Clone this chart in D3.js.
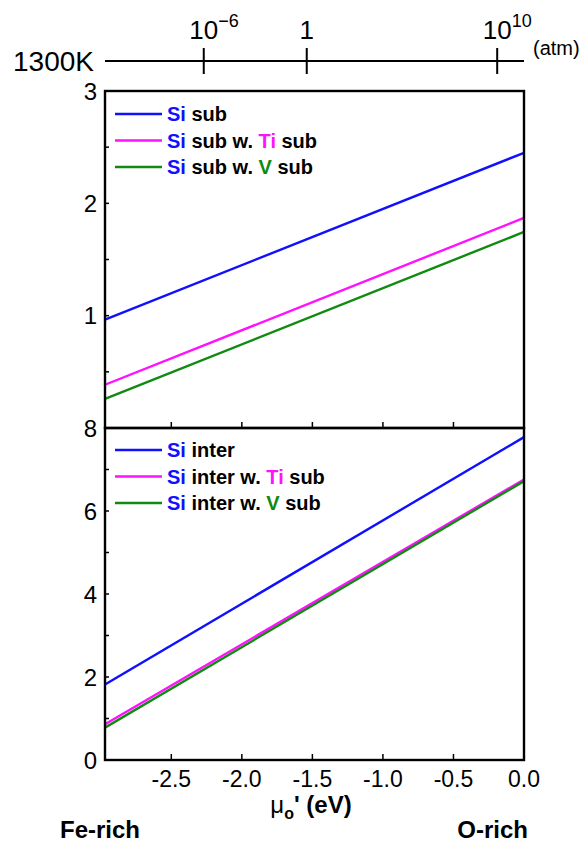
<!DOCTYPE html>
<html>
<head>
<meta charset="utf-8">
<script src="https://cdn.jsdelivr.net/npm/d3@7"></script>
<style>
  body { margin: 0; background: #fff; }
  svg text { font-family: "Liberation Sans", Arial, sans-serif; }
</style>
</head>
<body>
<svg id="chart" width="587" height="844"></svg>
<script>
// x values where every line starts and ends (mu_O', eV)
var muPoints = [-2.97, 0];

// upper panel: Si substitution
var subNames = ["Si sub", "Si sub w. Ti sub", "Si sub w. V sub"];
var subBlue = [0.965, 2.45];
var subMagenta = [0.385, 1.87];
var subGreen = [0.26, 1.745];

// lower panel: Si interstitial
var interNames = ["Si inter", "Si inter w. Ti sub", "Si inter w. V sub"];
var interBlue = [1.82, 7.78];
var interMagenta = [0.86, 6.76];
var interGreen = [0.78, 6.72];

var xTicks = [-2.5, -2.0, -1.5, -1.0, -0.5, 0.0];
var subTicks = [0, 0.5, 1, 1.5, 2, 2.5, 3];
var subLabels = [1, 2, 3];
var interTicks = [0, 1, 2, 3, 4, 5, 6, 7, 8];
var interLabels = [0, 2, 4, 6, 8];

// oxygen partial pressure at 1300K, placed on the mu_O' axis
var pressureMu = [-2.27, -1.54, -0.19];
var pressureBase = ["10", "1", "10"];
var pressureExp = ["\u22126", "", "10"];

var colors = { blue: "#1010ff", magenta: "#ff10ff", green: "#108a10" };

var svg = d3.select("#chart");
var left = 105, right = 524;
var x = d3.scaleLinear().domain([-2.97, 0]).range([left, right]);
var yTop = d3.scaleLinear().domain([0, 3]).range([428, 91]);
var yBot = d3.scaleLinear().domain([0, 8]).range([760, 428]);

function drawPanel(y, ticks, labels, series, names, legendY) {
  var g = svg.append("g");
  var line = d3.line()
    .x(function(d, i) { return x(muPoints[i]); })
    .y(function(d) { return y(d); });

  series.forEach(function(s) {
    g.append("path")
      .datum(s.values)
      .attr("d", line)
      .attr("fill", "none")
      .attr("stroke", s.color)
      .attr("stroke-width", 2.4);
  });

  // y ticks, pointing inward
  g.selectAll(".yt")
    .data(ticks)
    .join("line")
    .attr("x1", left).attr("x2", left + 4)
    .attr("y1", function(d) { return y(d); })
    .attr("y2", function(d) { return y(d); })
    .attr("stroke", "#000").attr("stroke-width", 1.5);

  g.selectAll(".yl")
    .data(labels)
    .join("text")
    .attr("x", 97)
    .attr("y", function(d) { return y(d) + 8.5; })
    .attr("text-anchor", "end")
    .attr("font-size", 24)
    .text(function(d) { return d; });

  // frame
  var d0 = y.domain();
  g.append("rect")
    .attr("x", left).attr("y", y(d0[1]))
    .attr("width", right - left)
    .attr("height", y(d0[0]) - y(d0[1]))
    .attr("fill", "none")
    .attr("stroke", "#000").attr("stroke-width", 2.4);

  // bottom x ticks, pointing inward
  g.selectAll(".xt")
    .data(xTicks.slice(0, 5))
    .join("line")
    .attr("x1", function(d) { return x(d); })
    .attr("x2", function(d) { return x(d); })
    .attr("y1", y(d0[0]))
    .attr("y2", y(d0[0]) - 6)
    .attr("stroke", "#000").attr("stroke-width", 1.5);

  // legend
  series.forEach(function(s, i) {
    var ly = legendY + i * 26.5;
    g.append("line")
      .attr("x1", 115).attr("x2", 162)
      .attr("y1", ly).attr("y2", ly)
      .attr("stroke", s.color).attr("stroke-width", 2.4);
    var t = g.append("text")
      .attr("x", 167).attr("y", ly + 7)
      .attr("font-size", 20)
      .attr("font-weight", "bold");
    var parts = names[i].split(" ");
    parts.forEach(function(p, k) {
      var c = "#000";
      if (p === "Si") c = colors.blue;
      if (p === "Ti") c = colors.magenta;
      if (p === "V") c = colors.green;
      t.append("tspan").attr("fill", c).text((k > 0 ? " " : "") + p);
    });
  });
}

drawPanel(yTop, subTicks, subLabels, [
  { values: subBlue, color: colors.blue },
  { values: subMagenta, color: colors.magenta },
  { values: subGreen, color: colors.green }
], subNames, 114);

drawPanel(yBot, interTicks, interLabels, [
  { values: interBlue, color: colors.blue },
  { values: interMagenta, color: colors.magenta },
  { values: interGreen, color: colors.green }
], interNames, 450);

// x tick labels
svg.selectAll(".xl")
  .data(xTicks)
  .join("text")
  .attr("x", function(d) { return x(d); })
  .attr("y", 787)
  .attr("text-anchor", "middle")
  .attr("font-size", 23)
  .text(function(d) { return d3.format(".1f")(d).replace("\u2212", "-"); });

// x axis title
var xt = svg.append("text")
  .attr("x", 311).attr("y", 813)
  .attr("text-anchor", "middle")
  .attr("font-size", 24)
  .attr("font-weight", "bold");
xt.append("tspan").attr("font-weight", "normal").text("\u03bc");
xt.append("tspan").attr("font-size", 16).attr("dy", 6).text("o");
xt.append("tspan").attr("dy", -6).text("' (eV)");

svg.append("text").attr("x", 60).attr("y", 838)
  .attr("font-size", 24).attr("font-weight", "bold").text("Fe-rich");
svg.append("text").attr("x", 528).attr("y", 838)
  .attr("text-anchor", "end")
  .attr("font-size", 24).attr("font-weight", "bold").text("O-rich");

// pressure axis
svg.append("line")
  .attr("x1", left).attr("x2", right)
  .attr("y1", 61).attr("y2", 61)
  .attr("stroke", "#000").attr("stroke-width", 2);

svg.selectAll(".pt")
  .data(pressureMu)
  .join("line")
  .attr("x1", function(d) { return x(d); })
  .attr("x2", function(d) { return x(d); })
  .attr("y1", 48).attr("y2", 74)
  .attr("stroke", "#000").attr("stroke-width", 2);

pressureMu.forEach(function(m, i) {
  var t = svg.append("text")
    .attr("y", 39)
    .attr("font-family", "DejaVu Serif, serif")
    .attr("font-size", 26);
  var base = t.append("tspan").text(pressureBase[i]);
  var w = base.node().getComputedTextLength();
  t.attr("x", x(m) - w / 2);
  if (pressureExp[i]) {
    t.append("tspan").attr("font-size", 18).attr("dy", -12).text(pressureExp[i]);
  }
});

svg.append("text").attr("x", 13).attr("y", 71)
  .attr("font-size", 28).text("1300K");
svg.append("text").attr("x", 533).attr("y", 55)
  .attr("font-size", 20).text("(atm)");
</script>
</body>
</html>
